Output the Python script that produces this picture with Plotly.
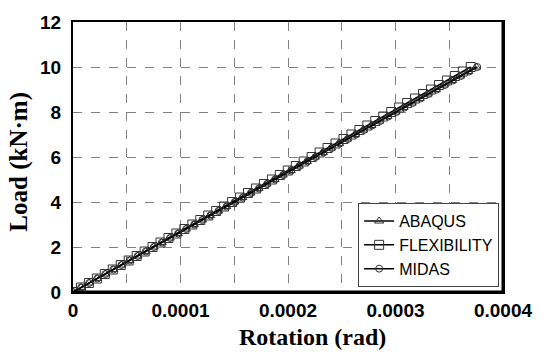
import plotly.graph_objects as go

# Data (rotation in micro-radians, load in kN·m)
load = [0, 0.2, 0.4, 0.6, 0.8, 1.0, 1.2, 1.4, 1.6, 1.8, 2.0, 2.2, 2.4, 2.6, 2.8, 3.0,
        3.2, 3.4, 3.6, 3.8, 4.0, 4.2, 4.4, 4.6, 4.8, 5.0, 5.2, 5.4, 5.6, 5.8, 6.0,
        6.2, 6.4, 6.6, 6.8, 7.0, 7.2, 7.4, 7.6, 7.8, 8.0, 8.2, 8.4, 8.6, 8.8, 9.0,
        9.2, 9.4, 9.6, 9.8, 10.0]
abaqus_urad = [0, 7.5, 15.0, 22.5, 30.0, 37.5, 45.0, 52.5, 60.0, 67.5, 75.0, 82.5, 90.0,
               97.5, 105.0, 112.5, 120.0, 127.5, 135.0, 142.5, 150.0, 157.5, 165.0, 172.5,
               180.0, 187.5, 195.0, 202.5, 210.0, 217.5, 225.0, 232.5, 240.0, 247.5, 255.0,
               262.5, 270.0, 277.5, 285.0, 292.5, 300.0, 307.5, 315.0, 322.5, 330.0, 337.5,
               345.0, 352.5, 360.0, 367.5, 375.0]
flex_urad = [0, 7.4, 14.8, 22.2, 29.6, 37.0, 44.4, 51.8, 59.2, 66.6, 74.0, 81.4, 88.8,
             96.2, 103.6, 111.0, 118.4, 125.8, 133.2, 140.6, 148.0, 155.4, 162.8, 170.2,
             177.6, 185.0, 192.4, 199.8, 207.2, 214.6, 222.0, 229.4, 236.8, 244.2, 251.6,
             259.0, 266.4, 273.8, 281.2, 288.6, 296.0, 303.4, 310.8, 318.2, 325.6, 333.0,
             340.4, 347.8, 355.2, 362.6, 370.0]
midas_urad = [0, 7.52, 15.04, 22.56, 30.08, 37.6, 45.12, 52.64, 60.16, 67.68, 75.2, 82.72,
              90.24, 97.76, 105.28, 112.8, 120.32, 127.84, 135.36, 142.88, 150.4, 157.92,
              165.44, 172.96, 180.48, 188.0, 195.52, 203.04, 210.56, 218.08, 225.6, 233.12,
              240.64, 248.16, 255.68, 263.2, 270.72, 278.24, 285.76, 293.28, 300.8, 308.32,
              315.84, 323.36, 330.88, 338.4, 345.92, 353.44, 360.96, 368.48, 376.0]

x_tickvals = [0, 0.0001, 0.0002, 0.0003, 0.0004]
x_ticktext = ["0", "0.0001", "0.0002", "0.0003", "0.0004"]

series = [
    ("ABAQUS", abaqus_urad, "triangle-up-open", 8),
    ("FLEXIBILITY", flex_urad, "square-open", 9),
    ("MIDAS", midas_urad, "circle-open", 7),
]

fig = go.Figure()
for name, rot, sym, sz in series:
    fig.add_trace(go.Scatter(
        x=[v * 1e-6 for v in rot], y=load, name=name, mode="lines+markers",
        line=dict(color="black", width=1.5),
        marker=dict(symbol=sym, size=sz, color="#333333", line=dict(width=1)),
    ))

axis_common = dict(
    showline=True, linecolor="black", linewidth=2, mirror=True,
    gridcolor="#808080", griddash="dash", gridwidth=1,
    zeroline=False, ticks="",
    tickfont=dict(family="Liberation Sans, Arial", size=19, color="black", weight="bold"),
)

fig.update_xaxes(range=[0, 0.0004], tickvals=x_tickvals, ticktext=x_ticktext,
                 minor=dict(dtick=0.00005, showgrid=True, gridcolor="#808080",
                            griddash="dash", gridwidth=1),
                 **axis_common)
fig.update_yaxes(range=[0, 12], dtick=2, ticklabelstandoff=6, **axis_common)

fig.update_layout(
    width=544, height=360,
    margin=dict(l=73, r=35, t=16, b=68),
    paper_bgcolor="white", plot_bgcolor="white",
    showlegend=True,
    legend=dict(x=0.991, y=0.018, xanchor="right", yanchor="bottom",
                bgcolor="white", bordercolor="#444444", borderwidth=1,
                font=dict(family="Liberation Sans, Arial", size=16, color="black"),
                itemwidth=30, tracegroupgap=0),
    shapes=[
        dict(type="line", xref="paper", yref="paper", x0=0, x1=1, y0=0, y1=0,
             line=dict(color="black", width=3)),
        dict(type="line", xref="paper", yref="paper", x0=1, x1=1, y0=0, y1=1,
             line=dict(color="black", width=3)),
    ],
    annotations=[
        dict(text="<b>Rotation (rad)</b>", xref="paper", yref="paper",
             x=(316 - 73) / 436, y=-(338 - 292) / 276, xanchor="center", yanchor="middle",
             showarrow=False, font=dict(family="Liberation Serif, Times New Roman", size=24, color="black")),
        dict(text="<b>Load (kN·m)</b>", xref="paper", yref="paper",
             x=-(73 - 18) / 436, y=(292 - 159) / 276, xanchor="center", yanchor="middle",
             textangle=-90, showarrow=False,
             font=dict(family="Liberation Serif, Times New Roman", size=25, color="black")),
    ],
)

fig.write_html("out.html")
